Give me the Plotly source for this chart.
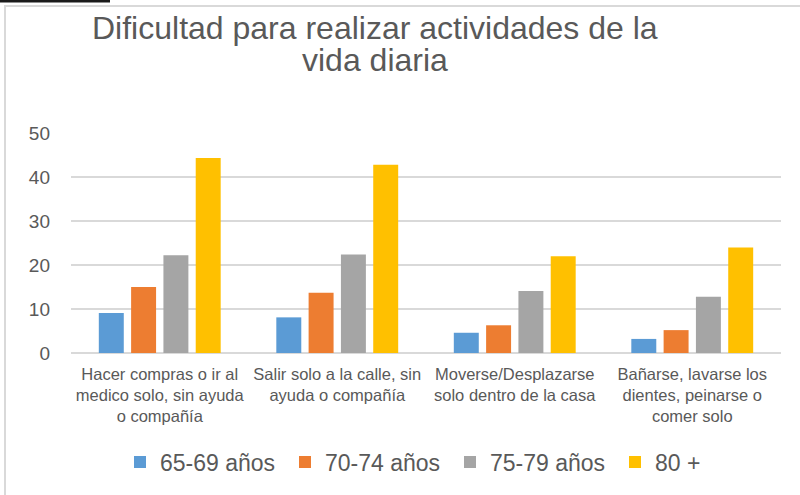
import plotly.graph_objects as go

categories = [
    "Hacer compras o ir al<br>medico solo, sin ayuda<br>o compañía",
    "Salir solo a la calle, sin<br>ayuda o compañía",
    "Moverse/Desplazarse<br>solo dentro de la casa",
    "Bañarse, lavarse los<br>dientes, peinarse o<br>comer solo",
]
series_names = ["65-69 años", "70-74 años", "75-79 años", "80 +"]
v_65_69 = [9.1, 8.1, 4.6, 3.2]
v_70_74 = [15.0, 13.7, 6.3, 5.2]
v_75_79 = [22.2, 22.4, 14.1, 12.8]
v_80 = [44.3, 42.8, 22.0, 24.0]
colors = ["#5B9BD5", "#ED7D31", "#A5A5A5", "#FFC000"]
y_ticks = [0, 10, 20, 30, 40, 50]

W, H = 800, 495
L, R, T, B = 71, 19, 133, 142
pw, ph = W - L - R, H - T - B

def px_x(x):
    return (x - L) / pw

def px_y(y):
    return (H - B - y) / ph

fig = go.Figure()
for name, vals, col in zip(series_names, [v_65_69, v_70_74, v_75_79, v_80], colors):
    fig.add_trace(go.Bar(name=name, x=categories, y=vals, marker=dict(color=col, line=dict(width=0))))

font_col = "#595959"
fig.update_layout(
    width=W, height=H,
    margin=dict(l=L, r=R, t=T, b=B),
    paper_bgcolor="white", plot_bgcolor="white",
    font=dict(family="Liberation Sans, Arial, sans-serif", color=font_col),
    barmode="group", bargap=0.272, bargroupgap=0.227,
    showlegend=True,
    legend=dict(orientation="h", x=px_x(120), xanchor="left", y=px_y(462), yanchor="middle",
                font=dict(size=23, color=font_col), itemwidth=30, traceorder="normal",
                entrywidth=120, entrywidthmode="pixels"),
    xaxis=dict(showgrid=False, showline=False, ticks="", tickfont=dict(size=16.5, color=font_col),
               tickangle=0, ticklabelstandoff=9),
    yaxis=dict(range=[0, 50], tickvals=y_ticks, showgrid=True, gridcolor="#D9D9D9", gridwidth=1.5,
               zeroline=True, zerolinecolor="#D9D9D9", zerolinewidth=1.5,
               showline=False, ticks="", tickfont=dict(size=19, color=font_col),
               ticklabelstandoff=20),
    annotations=[
        dict(text="Dificultad para realizar actividades de la", xref="paper", yref="paper",
             x=px_x(375), y=px_y(28.5), xanchor="center", yanchor="middle", showarrow=False,
             font=dict(size=32, color=font_col)),
        dict(text="vida diaria", xref="paper", yref="paper",
             x=px_x(375), y=px_y(60.5), xanchor="center", yanchor="middle", showarrow=False,
             font=dict(size=32, color=font_col)),
    ],
    shapes=[
        dict(type="rect", xref="paper", yref="paper", x0=px_x(5), x1=px_x(803), y0=px_y(6), y1=px_y(498),
             line=dict(color="#D9D9D9", width=2), fillcolor="rgba(0,0,0,0)", layer="above"),
        dict(type="rect", xref="paper", yref="paper", x0=px_x(0), x1=px_x(110), y0=px_y(0), y1=px_y(2.5),
             line=dict(width=0), fillcolor="#1a1a1a", layer="above"),
    ],
)

fig.write_html("out.html", config={"displayModeBar": False},
               post_script="document.body.style.margin='0px';")
